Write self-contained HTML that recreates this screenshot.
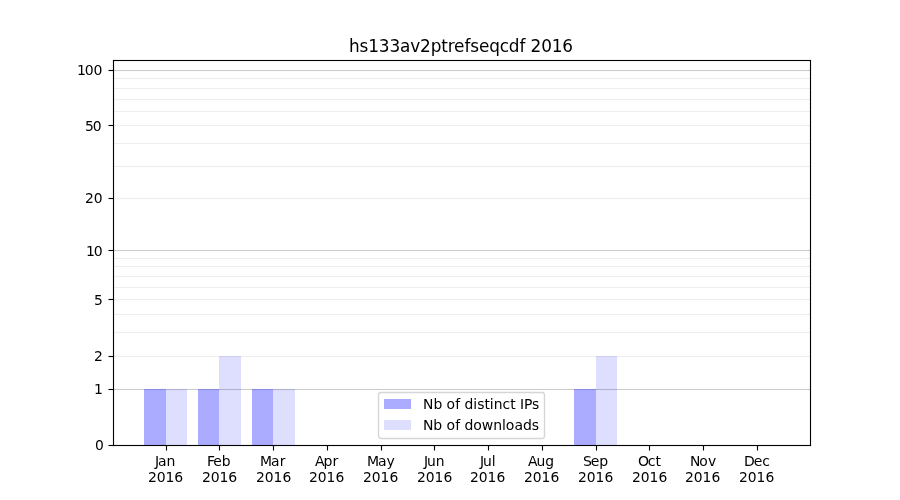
<!DOCTYPE html>
<html lang="en">
<head>
<meta charset="utf-8">
<title>hs133av2ptrefseqcdf 2016</title>
<style>
html,body{margin:0;padding:0;background:#fff;}
body{width:900px;height:500px;overflow:hidden;}
svg{display:block;}
text{font-family:"DejaVu Sans","Liberation Sans",sans-serif;fill:#000;}
</style>
</head>
<body>
<svg width="900" height="500" viewBox="0 0 900 500">
<rect x="0" y="0" width="900" height="500" fill="#ffffff"/>

<g>
<rect x="113" y="388.9445" width="697.5" height="1.111" fill="#cccccc"/>
<rect x="113" y="355.9445" width="697.5" height="1.111" fill="#eeeeee"/>
<rect x="113" y="331.9445" width="697.5" height="1.111" fill="#eeeeee"/>
<rect x="113" y="313.9445" width="697.5" height="1.111" fill="#eeeeee"/>
<rect x="113" y="298.9445" width="697.5" height="1.111" fill="#eeeeee"/>
<rect x="113" y="286.9445" width="697.5" height="1.111" fill="#eeeeee"/>
<rect x="113" y="275.9445" width="697.5" height="1.111" fill="#eeeeee"/>
<rect x="113" y="265.9445" width="697.5" height="1.111" fill="#eeeeee"/>
<rect x="113" y="257.9445" width="697.5" height="1.111" fill="#eeeeee"/>
<rect x="113" y="249.9445" width="697.5" height="1.111" fill="#cccccc"/>
<rect x="113" y="197.9445" width="697.5" height="1.111" fill="#eeeeee"/>
<rect x="113" y="165.9445" width="697.5" height="1.111" fill="#eeeeee"/>
<rect x="113" y="142.9445" width="697.5" height="1.111" fill="#eeeeee"/>
<rect x="113" y="124.9445" width="697.5" height="1.111" fill="#eeeeee"/>
<rect x="113" y="110.9445" width="697.5" height="1.111" fill="#eeeeee"/>
<rect x="113" y="98.9445" width="697.5" height="1.111" fill="#eeeeee"/>
<rect x="113" y="87.9445" width="697.5" height="1.111" fill="#eeeeee"/>
<rect x="113" y="77.9445" width="697.5" height="1.111" fill="#eeeeee"/>
<rect x="113" y="69.9445" width="697.5" height="1.111" fill="#cccccc"/>
</g>
<g shape-rendering="crispEdges">
<rect x="144" y="389" width="22" height="56.5" fill="#0000ff" fill-opacity="0.33"/>
<rect x="166" y="389" width="21" height="56.5" fill="#0000ff" fill-opacity="0.13"/>
<rect x="198" y="389" width="21" height="56.5" fill="#0000ff" fill-opacity="0.33"/>
<rect x="219" y="356" width="22" height="89.5" fill="#0000ff" fill-opacity="0.13"/>
<rect x="252" y="389" width="21" height="56.5" fill="#0000ff" fill-opacity="0.33"/>
<rect x="273" y="389" width="22" height="56.5" fill="#0000ff" fill-opacity="0.13"/>
<rect x="574" y="389" width="22" height="56.5" fill="#0000ff" fill-opacity="0.33"/>
<rect x="596" y="356" width="21" height="89.5" fill="#0000ff" fill-opacity="0.13"/>
</g>
<g fill="#000000">
<rect x="165.9445" y="445.5" width="1.111" height="5.0"/>
<rect x="218.9445" y="445.5" width="1.111" height="5.0"/>
<rect x="272.9445" y="445.5" width="1.111" height="5.0"/>
<rect x="326.9445" y="445.5" width="1.111" height="5.0"/>
<rect x="380.9445" y="445.5" width="1.111" height="5.0"/>
<rect x="433.9445" y="445.5" width="1.111" height="5.0"/>
<rect x="487.9445" y="445.5" width="1.111" height="5.0"/>
<rect x="541.9445" y="445.5" width="1.111" height="5.0"/>
<rect x="595.9445" y="445.5" width="1.111" height="5.0"/>
<rect x="648.9445" y="445.5" width="1.111" height="5.0"/>
<rect x="702.9445" y="445.5" width="1.111" height="5.0"/>
<rect x="756.9445" y="445.5" width="1.111" height="5.0"/>
<rect x="108.5" y="444.9445" width="5.0" height="1.111"/>
<rect x="108.5" y="388.9445" width="5.0" height="1.111"/>
<rect x="108.5" y="355.9445" width="5.0" height="1.111"/>
<rect x="108.5" y="298.9445" width="5.0" height="1.111"/>
<rect x="108.5" y="249.9445" width="5.0" height="1.111"/>
<rect x="108.5" y="197.9445" width="5.0" height="1.111"/>
<rect x="108.5" y="124.9445" width="5.0" height="1.111"/>
<rect x="108.5" y="69.9445" width="5.0" height="1.111"/>
<rect x="112.9445" y="59.9445" width="1.111" height="386.111"/>
<rect x="809.9445" y="59.9445" width="1.111" height="386.111"/>
<rect x="112.9445" y="444.9445" width="698.111" height="1.111"/>
<rect x="112.9445" y="59.9445" width="698.111" height="1.111"/>
</g>
<g id="ylabels">
<text font-size="13.889" x="95.03" y="449.75">0</text>
<text font-size="14" x="93.90" y="393.75">1</text>
<text font-size="13.889" x="94.03" y="360.75">2</text>
<text font-size="13.889" x="94.03" y="304.5">5</text>
<text font-size="14" x="85.90 93.73" y="255.5">10</text>
<text font-size="13.889" x="85.03 93.86" y="202.75">20</text>
<text font-size="13.889" x="85.03 92.86" y="130.5">50</text>
<text font-size="14" x="76.90 84.73 93.56" y="74.5">100</text>
</g>
<g id="xlabels">
<text font-size="14" x="154.99 158.09 166.59" y="465.5">Jan</text>
<text font-size="14" x="148.07 156.65 165.48 174.31" y="481.5">2016</text>
<text font-size="13.889" x="207.01 213.24 221.78" y="465.5">Feb</text>
<text font-size="14" x="202.06 210.64 219.47 228.29" y="481.5">2016</text>
<text font-size="13.889" x="260.07 271.04 279.79" y="465.5">Mar</text>
<text font-size="13.889" x="256.05 264.87 273.45 282.53" y="481.5">2016</text>
<text font-size="14" x="314.90 323.39 332.44" y="465.5">Apr</text>
<text font-size="13.889" x="309.03 317.86 326.44 335.52" y="481.5">2016</text>
<text font-size="14" x="367.04 378.01 386.51" y="465.5">May</text>
<text font-size="13.889" x="363.02 371.85 380.43 389.50" y="481.5">2016</text>
<text font-size="13.889" x="424.03 427.12 435.67" y="465.5">Jun</text>
<text font-size="13.889" x="417.01 425.83 434.41 443.49" y="481.5">2016</text>
<text font-size="13.889" x="479.99 483.08 491.63" y="465.5">Jul</text>
<text font-size="13.889" x="469.99 478.82 487.40 496.48" y="481.5">2016</text>
<text font-size="13.889" x="528.04 536.54 545.33" y="465.5">Aug</text>
<text font-size="13.889" x="523.98 532.81 541.39 550.46" y="481.5">2016</text>
<text font-size="14" x="583.00 590.81 599.35" y="465.5">Sep</text>
<text font-size="13.889" x="577.97 586.79 595.62 604.45" y="481.5">2016</text>
<text font-size="14" x="638.07 647.74 655.62" y="465.5">Oct</text>
<text font-size="13.889" x="631.95 640.78 649.61 658.44" y="481.5">2016</text>
<text font-size="13.889" x="690.01 699.14 707.88" y="465.5">Nov</text>
<text font-size="13.889" x="684.94 693.77 702.59 711.42" y="481.5">2016</text>
<text font-size="14" x="744.11 753.80 762.33" y="465.5">Dec</text>
<text font-size="13.889" x="738.93 747.75 756.58 765.41" y="481.5">2016</text>
</g>
<text font-size="16.9" x="349.05 359.59 368.25 378.83 389.40 399.98 410.17 420.01 430.83 441.14 447.66 454.12 464.59 470.20 479.11 489.34 499.64 508.78 519.58 525.19 530.47 541.30 551.63 562.20" y="51.67">hs133av2ptrefseqcdf 2016</text>
<path d="M381.5,392.5 L542.5,392.5 Q544.5,392.5 544.5,395.5 L544.5,435.5 Q544.5,438.5 542.5,438.5 L381.5,438.5 Q378.5,438.5 378.5,435.5 L378.5,395.5 Q378.5,392.5 381.5,392.5 Z" fill="#ffffff" fill-opacity="0.8" stroke="#cccccc" stroke-opacity="0.8" stroke-width="1.389" stroke-linejoin="miter"/>
<g shape-rendering="crispEdges">
<rect x="384" y="399" width="27" height="10" fill="#0000ff" fill-opacity="0.33"/>
<rect x="384" y="420" width="27" height="10" fill="#0000ff" fill-opacity="0.13"/>
</g>
<text font-size="13.889" x="423.07 433.45 442.26 446.42 455.16 460.04 464.45 473.26 477.36 484.59 489.78 493.64 502.43 510.31 515.50 519.91 524.00 532.12" y="408.5">Nb of distinct IPs</text>
<text font-size="14" x="423.07 433.20 442.26 446.42 455.16 460.04 464.45 473.26 481.75 493.35 501.89 505.74 514.48 522.99 531.79" y="429.5">Nb of downloads</text>
</svg>
</body>
</html>
